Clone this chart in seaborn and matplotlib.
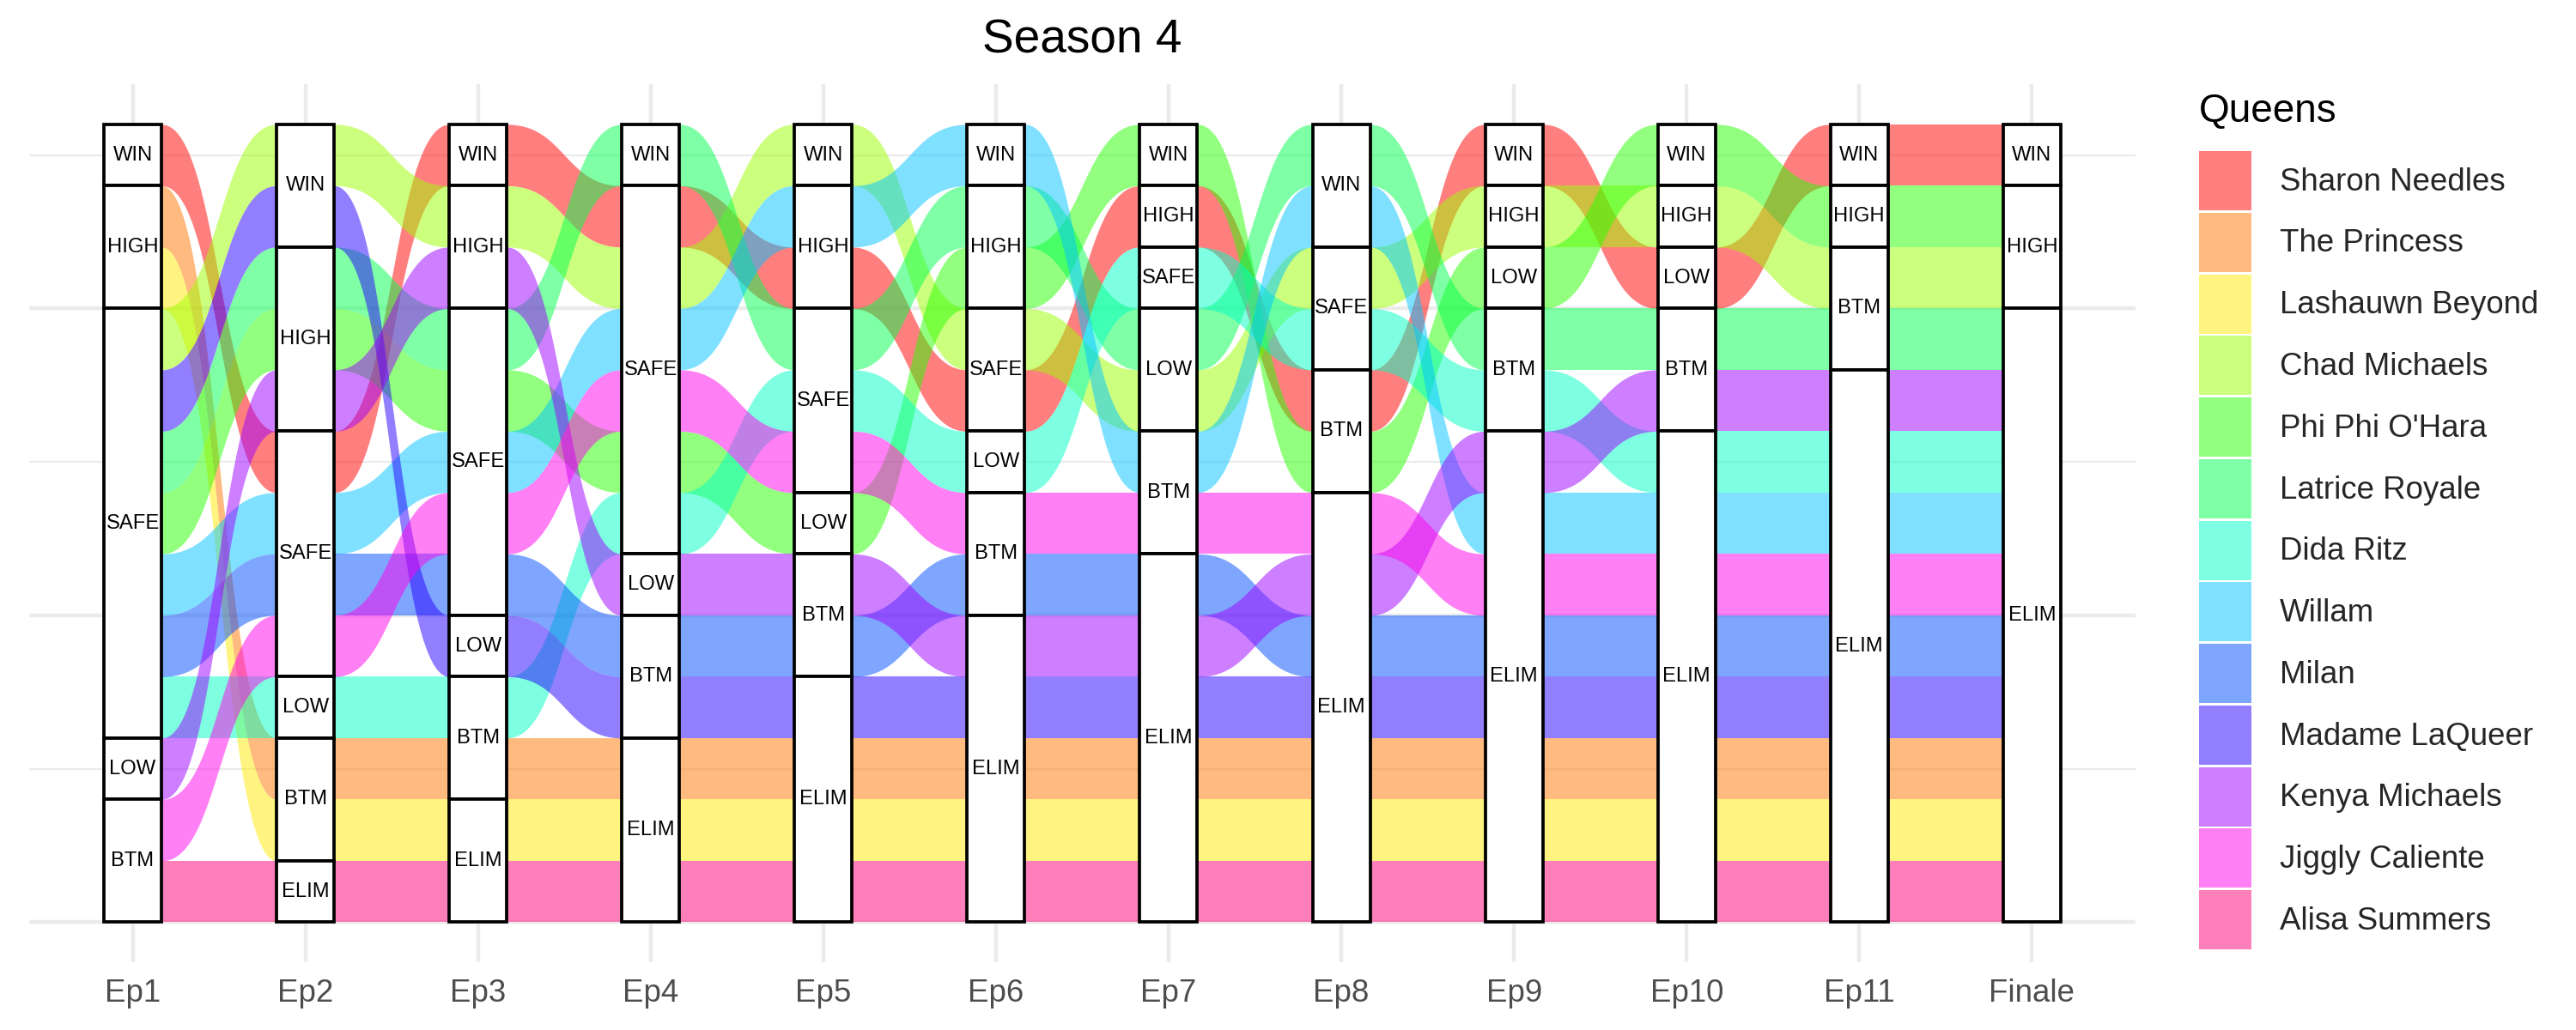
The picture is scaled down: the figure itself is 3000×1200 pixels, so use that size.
import matplotlib
matplotlib.use("Agg")
import matplotlib.pyplot as plt
from matplotlib.patches import Patch
import numpy as np
import pandas as pd
import seaborn as sns

# ---- data: status of each queen per episode ----
episodes = ["Ep1", "Ep2", "Ep3", "Ep4", "Ep5", "Ep6", "Ep7", "Ep8", "Ep9",
            "Ep10", "Ep11", "Finale"]
statuses = ["WIN", "HIGH", "SAFE", "LOW", "BTM", "ELIM"]   # top -> bottom
queens = ["Sharon Needles", "The Princess", "Lashauwn Beyond", "Chad Michaels",
          "Phi Phi O'Hara", "Latrice Royale", "Dida Ritz", "Willam", "Milan",
          "Madame LaQueer", "Kenya Michaels", "Jiggly Caliente", "Alisa Summers"]

sharon   = ["WIN", "SAFE", "WIN", "SAFE", "HIGH", "SAFE", "HIGH", "BTM", "WIN", "LOW", "WIN", "WIN"]
princess = ["HIGH", "BTM", "BTM", "ELIM", "ELIM", "ELIM", "ELIM", "ELIM", "ELIM", "ELIM", "ELIM", "ELIM"]
lashauwn = ["HIGH", "BTM", "ELIM", "ELIM", "ELIM", "ELIM", "ELIM", "ELIM", "ELIM", "ELIM", "ELIM", "ELIM"]
chad     = ["SAFE", "WIN", "HIGH", "SAFE", "WIN", "SAFE", "LOW", "SAFE", "HIGH", "HIGH", "BTM", "HIGH"]
phiphi   = ["SAFE", "HIGH", "SAFE", "SAFE", "LOW", "HIGH", "WIN", "BTM", "LOW", "WIN", "HIGH", "HIGH"]
latrice  = ["SAFE", "HIGH", "SAFE", "WIN", "SAFE", "HIGH", "LOW", "WIN", "BTM", "BTM", "BTM", "ELIM"]
dida     = ["SAFE", "LOW", "BTM", "SAFE", "SAFE", "LOW", "SAFE", "SAFE", "BTM", "ELIM", "ELIM", "ELIM"]
willam   = ["SAFE", "SAFE", "SAFE", "SAFE", "HIGH", "WIN", "BTM", "WIN", "ELIM", "ELIM", "ELIM", "ELIM"]
milan    = ["SAFE", "SAFE", "SAFE", "BTM", "BTM", "BTM", "ELIM", "ELIM", "ELIM", "ELIM", "ELIM", "ELIM"]
madame   = ["SAFE", "WIN", "LOW", "BTM", "ELIM", "ELIM", "ELIM", "ELIM", "ELIM", "ELIM", "ELIM", "ELIM"]
kenya    = ["LOW", "HIGH", "HIGH", "LOW", "BTM", "ELIM", "ELIM", "ELIM", "ELIM", "BTM", "ELIM", "ELIM"]
jiggly   = ["BTM", "SAFE", "SAFE", "SAFE", "SAFE", "BTM", "BTM", "ELIM", "ELIM", "ELIM", "ELIM", "ELIM"]
alisa    = ["BTM", "ELIM", "ELIM", "ELIM", "ELIM", "ELIM", "ELIM", "ELIM", "ELIM", "ELIM", "ELIM", "ELIM"]

tracks = [sharon, princess, lashauwn, chad, phiphi, latrice, dida, willam,
          milan, madame, kenya, jiggly, alisa]

# rainbow palette, drawn at alpha 0.5
queen_colors = ["#FF0000", "#FF7600", "#FFEB00", "#9DFF00", "#27FF00", "#00FF4E",
                "#00FFC4", "#00C4FF", "#004EFF", "#2700FF", "#9D00FF", "#FF00EB",
                "#FF0076"]
ALPHA = 0.5
BOX_W = 1 / 3

df = pd.DataFrame([(q, e, i + 1, tr[i])
                   for q, tr in zip(queens, tracks)
                   for i, e in enumerate(episodes)],
                  columns=["queen", "episode", "x", "status"])
rank = {s: k for k, s in enumerate(statuses)}
df["rank"] = df["status"].map(rank)
R = df.pivot(index="queen", columns="x", values="rank").loc[queens]


def zigzag(n, i):
    """Axis order used to break ties: outward from i, nearest end first."""
    r1, r2 = i, n - 1 - i
    r = min(r1, r2)
    step = -1 if r1 <= r2 else 1
    order = [i]
    for j in range(1, r + 1):
        order += [i + step * j, i - step * j]
    if r1 > r2:
        order += [i - j for j in range(r + 1, r1 + 1)]
    else:
        order += [i + j for j in range(r + 1, r2 + 1)]
    return order


# lode slot (0 = top) of every queen at every axis
n_ax, n_q = len(episodes), len(queens)
slots = np.zeros((n_q, n_ax), dtype=int)
for i in range(n_ax):
    cols = [c + 1 for c in zigzag(n_ax, i)]
    keys = [tuple(R.loc[q, cols]) + (k,) for k, q in enumerate(queens)]
    for s, k in enumerate(sorted(range(n_q), key=lambda k: keys[k])):
        slots[k, i] = s

# ---- style ----
sns.set_theme(style="whitegrid")
plt.rcParams["font.family"] = ["Liberation Sans", "DejaVu Sans"]

fig = plt.figure(figsize=(10, 4), dpi=300)
ax = fig.add_axes([0.0113, 0.066, 0.8177, 0.852])
ax.set_facecolor("white")
for sp in ax.spines.values():
    sp.set_visible(False)

# ---- flows between axes ----
t = np.linspace(0, 1, 80)
xt = 1.5 * t * (1 - t) + t ** 3
yt = 3 * t ** 2 - 2 * t ** 3
for k in range(n_q):
    for i in range(n_ax - 1):
        a = i + 1 + BOX_W / 2
        b = i + 2 - BOX_W / 2
        y0 = n_q - slots[k, i]
        y1 = n_q - slots[k, i + 1]
        xs = a + (b - a) * xt
        top = y0 + (y1 - y0) * yt
        ax.fill_between(xs, top - 1, top, color=queen_colors[k], alpha=ALPHA,
                        linewidth=0, zorder=2)

# ---- strata boxes ----
for i, ep in enumerate(episodes):
    col = df[df["episode"] == ep]
    for st in statuses:
        members = [queens.index(q) for q in col.loc[col["status"] == st, "queen"]]
        if not members:
            continue
        lo = n_q - max(slots[m, i] for m in members) - 1
        h = len(members)
        ax.bar(i + 1, h, bottom=lo, width=BOX_W, color="white",
               edgecolor="black", linewidth=0.9, zorder=3)
        ax.text(i + 1, lo + h / 2, st, ha="center", va="center",
                fontsize=5.7, color="black", zorder=4)

# ---- axes ----
ax.set_xlim(0.4, n_ax + 0.6)
ax.set_ylim(-0.65, n_q + 0.65)
ax.set_xticks(range(1, n_ax + 1))
ax.set_xticklabels(episodes)
ax.set_yticks([0, 5, 10])
ax.set_yticks([2.5, 7.5, 12.5], minor=True)
ax.tick_params(axis="x", length=0, pad=4.5, labelsize=8.8, labelcolor="#4D4D4D")
ax.tick_params(axis="y", which="both", length=0, labelleft=False)
ax.grid(which="major", color="#EBEBEB", linewidth=1.07)
ax.grid(which="minor", axis="y", color="#EBEBEB", linewidth=0.53)
ax.set_axisbelow(True)
ax.set_xlabel("")
ax.set_ylabel("")

fig.text(0.42, 0.96, "Season 4", ha="center", va="center", fontsize=13.2,
         color="black")

# legend: title placed as text, keys below it
fig.text(0.8537, 0.8917, "Queens", ha="left", va="center", fontsize=11,
         color="black")
handles = [Patch(facecolor=c, alpha=ALPHA, edgecolor="none") for c in queen_colors]
leg = fig.legend(handles, queens, loc="upper left",
                 bbox_to_anchor=(0.8537, 0.8533), frameon=False, fontsize=8.8,
                 handlelength=1.67, handleheight=2.52,
                 labelspacing=0.074, handletextpad=0.9, borderpad=0,
                 borderaxespad=0)

fig.savefig("out.png", dpi=300, facecolor="white")
